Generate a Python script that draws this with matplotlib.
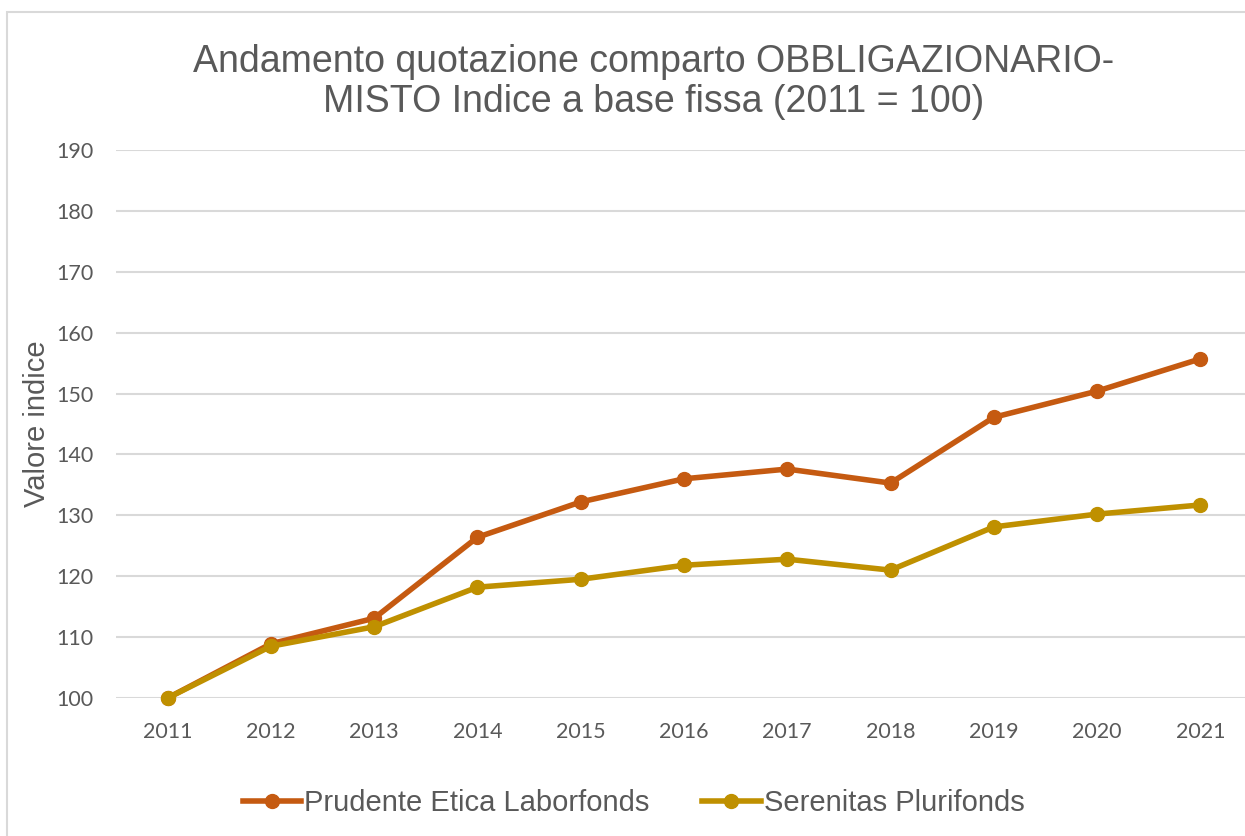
import matplotlib.pyplot as plt
from matplotlib.patches import Rectangle

# Dati
anni = ['2011', '2012', '2013', '2014', '2015', '2016', '2017', '2018', '2019', '2020', '2021']
prudente = [100, 108.9, 113.1, 126.4, 132.2, 136.0, 137.6, 135.3, 146.1, 150.4, 155.7]
serenitas = [100, 108.5, 111.7, 118.2, 119.5, 121.8, 122.8, 121.0, 128.1, 130.2, 131.7]

grigio = '#595959'
arancio = '#C55A11'
oro = '#BF9000'

fig = plt.figure(figsize=(12.45, 8.36), dpi=100)
ax = fig.add_axes([116 / 1245, 1 - 698 / 836, 1136 / 1245, 548 / 836])

# Cornice del grafico
fig.patches.append(Rectangle((7 / 1245, -0.01), 1.0, 1 - 12 / 836 + 0.01,
                             transform=fig.transFigure, fill=False,
                             edgecolor='#D9D9D9', linewidth=1.5))

x = range(len(anni))
ax.plot(x, prudente, color=arancio, linewidth=4, marker='o', markersize=10,
        label='Prudente Etica Laborfonds', clip_on=False, zorder=3)
ax.plot(x, serenitas, color=oro, linewidth=4, marker='o', markersize=10,
        label='Serenitas Plurifonds', clip_on=False, zorder=4)

ax.set_xlim(-0.5, len(anni) - 0.5)
ax.set_ylim(100, 190)
ax.set_yticks(range(100, 191, 10))
ax.set_xticks(list(x))
ax.set_xticklabels(anni)
ax.grid(axis='y', color='#D9D9D9', linewidth=1.5)
ax.set_axisbelow(True)
for s in ax.spines.values():
    s.set_visible(False)
ax.tick_params(length=0, labelsize=15.5, labelcolor=grigio)
for lab in ax.get_xticklabels() + ax.get_yticklabels():
    lab.set_family('Lato')
ax.tick_params(axis='x', pad=17)
ax.tick_params(axis='y', pad=16)

ax.set_ylabel('Valore indice', fontsize=21, color=grigio, family='Liberation Sans', labelpad=4)

fig.text(0.525, 1 - 82 / 836, 'Andamento quotazione comparto OBBLIGAZIONARIO-\nMISTO Indice a base fissa (2011 = 100)',
         ha='center', va='center', fontsize=27, color=grigio, family='Liberation Sans', linespacing=1.12)

leg = fig.legend(loc='center', bbox_to_anchor=(0.509, 1 - 803 / 836), ncol=2, frameon=False,
                 prop={'family': 'Liberation Sans', 'size': 21}, handlelength=2.0,
                 handletextpad=0.1, columnspacing=1.8)
for t in leg.get_texts():
    t.set_color(grigio)

fig.savefig('out.png', dpi=100)
